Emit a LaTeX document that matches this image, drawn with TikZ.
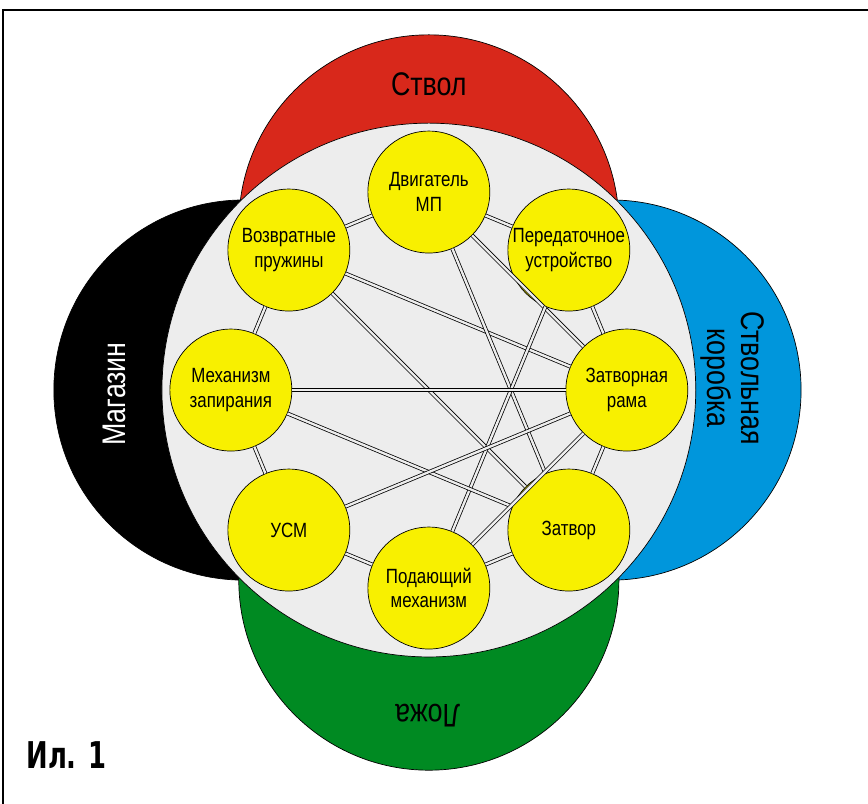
\documentclass[tikz,border=0pt]{standalone}
\usepackage{fontspec}
\setmainfont{Liberation Sans}[FakeStretch=0.82]
\newfontfamily\captionfont{DejaVu Sans}[FakeStretch=0.7]
\definecolor{barrelred}{RGB}{216,40,27}
\definecolor{receiverblue}{RGB}{0,150,220}
\definecolor{stockgreen}{RGB}{0,138,34}
\definecolor{partyellow}{RGB}{248,240,0}
\definecolor{coregray}{RGB}{237,237,237}
\begin{document}
\begin{tikzpicture}[
    part/.style={circle,draw,line width=0.5pt,fill=partyellow,minimum size=3.08cm,
      inner sep=0pt,align=center,font=\fontsize{14.8}{17.6}\selectfont},
    zone/.style={draw,line width=0.5pt},
    zonetext/.style={align=center,inner sep=0pt,font=\fontsize{23.5}{24.4}\selectfont},
    link/.style={draw,line width=0.55pt,double=coregray,double distance=1.7pt}]
  \useasboundingbox (-10.83,-10.45) rectangle (11.09,9.85);
  \draw[line width=1.4pt] (-10.76,-10.45) -- (-10.76,9.60) -- (11.09,9.60);
  % outer zones
  \draw[zone,fill=barrelred] (0,4.17) circle (4.8);
  \draw[zone,fill=receiverblue] (4.6,0) circle (4.8);
  \draw[zone,fill=black] (-4.67,0) circle (4.8);
  \draw[zone,fill=stockgreen] (0,-4.8) circle (4.8);
  \draw[zone,fill=coregray] (0,0) circle (6.74);
  \node[zonetext] (barrel) at (0,7.73) {Ствол};
  \node[zonetext,rotate=-90] (receiver) at (7.68,0.30) {Ствольная\\коробка};
  \node[zonetext,white,rotate=90] (magazine) at (-7.93,-0.10) {Магазин};
  \node[zonetext,rotate=180] (stock) at (-0.03,-8.21) {Ложа};
  \node[anchor=west,inner sep=0pt,font=\captionfont\bfseries\fontsize{26.5}{30}\selectfont]
    (caption) at (-10.17,-9.22) {Ил. 1};
  % parts
  \draw
    (90:5) node[part] (motor) {Двигатель\\МП}
    (45:5) node[part] (transfer) {Передаточное\\устройство}
    (0:5) node[part] (carrier) {Затворная\\рама}
    (-45:5) node[part] (bolt) {Затвор}
    (-90:5) node[part] (feed) {Подающий\\механизм}
    (-135:5) node[part] (trigger) {УСМ}
    (180:5) node[part] (lock) {Механизм\\запирания}
    (135:5) node[part] (springs) {Возвратные\\пружины};
  \begin{scope}[every path/.style=link]
    \draw (motor) to (transfer);
    \draw (transfer) to (carrier);
    \draw (carrier) to (bolt);
    \draw (bolt) to (feed);
    \draw (feed) to (trigger);
    \draw (trigger) to (lock);
    \draw (lock) to (springs);
    \draw (springs) to (motor);
    \draw (springs) to (carrier);
    \draw (springs) to (bolt);
    \draw (motor) to (bolt);
    \draw (motor) to (carrier);
    \draw (transfer) to (feed);
    \draw (lock) to (carrier);
    \draw (lock) to (bolt);
    \draw (trigger) to (carrier);
    \draw (carrier) to (feed);
  \end{scope}
\end{tikzpicture}
\end{document}
